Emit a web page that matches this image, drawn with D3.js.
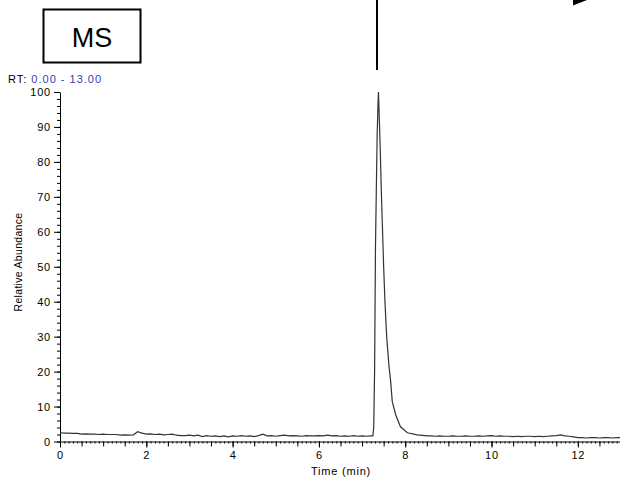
<!DOCTYPE html>
<html>
<head>
<meta charset="utf-8">
<script src="https://cdn.jsdelivr.net/npm/d3@7"></script>
<style>
  body { margin:0; background:#fff; }
  svg { display:block; font-family:"Liberation Sans", Arial, sans-serif; }
  .tk text { font-size:11px; letter-spacing:0.8px; }
</style>
</head>
<body>
<div class="canvas"></div>
<script>
// retention time (min)
var rtTime = [
  0.0,0.1,0.2,0.3,0.4,0.5,0.6,0.7,0.8,0.9,1.0,1.1,1.2,1.3,1.4,1.5,1.6,1.7,1.8,1.9,
  2.0,2.1,2.2,2.3,2.4,2.5,2.6,2.7,2.8,2.9,3.0,3.1,3.2,3.3,3.4,3.5,3.6,3.7,3.8,3.9,
  4.0,4.1,4.2,4.3,4.4,4.5,4.6,4.7,4.8,4.9,5.0,5.1,5.2,5.3,5.4,5.5,5.6,5.7,5.8,5.9,
  6.0,6.1,6.2,6.3,6.4,6.5,6.6,6.7,6.8,6.9,7.0,7.1,7.2,
  7.25,7.27,7.29,7.31,7.33,7.35,7.37,7.38,7.40,7.42,7.45,7.47,7.50,7.53,7.57,7.62,7.66,7.70,7.78,7.89,8.05,8.28,8.51,
  8.6,8.7,8.8,8.9,9.0,9.1,9.2,9.3,9.4,9.5,9.6,9.7,9.8,9.9,
  10.0,10.1,10.2,10.3,10.4,10.5,10.6,10.7,10.8,10.9,11.0,11.1,11.2,11.3,11.4,11.5,11.6,11.7,11.8,11.9,
  12.0,12.1,12.2,12.3,12.4,12.5,12.6,12.7,12.8,12.9,13.0
];
// relative abundance (%)
var abundance = [
  2.5,2.4,2.4,2.3,2.3,2.1,2.2,2.1,2.1,2.0,2.1,2.0,2.0,2.0,1.8,1.9,1.8,1.9,2.8,2.4,
  2.1,2.2,2.0,2.1,1.9,2.0,2.1,1.8,1.7,1.7,1.8,1.6,1.8,1.4,1.7,1.5,1.6,1.4,1.6,1.3,
  1.6,1.5,1.7,1.5,1.6,1.4,1.7,2.1,1.6,1.7,1.5,1.7,1.8,1.6,1.7,1.6,1.5,1.7,1.6,1.6,
  1.7,1.6,1.8,1.6,1.7,1.5,1.6,1.5,1.7,1.5,1.6,1.5,1.6,
  1.6,4,20,55,72,88,97,100,92,84,70,62,50,40,30,22,17.5,11.4,7.6,4.2,2.5,1.9,1.6,
  1.6,1.5,1.6,1.5,1.5,1.6,1.5,1.5,1.6,1.5,1.5,1.6,1.5,1.6,
  1.7,1.5,1.6,1.5,1.5,1.4,1.5,1.4,1.5,1.5,1.4,1.5,1.4,1.5,1.6,1.7,1.9,1.6,1.5,1.3,
  1.1,1.1,1.0,1.1,1.1,1.0,1.1,1.1,1.0,1.1,1.1
];
var xLabels = [0,2,4,6,8,10,12];
var yLabels = [0,10,20,30,40,50,60,70,80,90,100];

var width = 620, height = 478;
var svg = d3.select(".canvas").append("svg")
  .attr("width", width).attr("height", height);

// scales
var x = d3.scaleLinear().domain([0, 13]).range([60, 621]);
var y = d3.scaleLinear().domain([0, 100]).range([441.5, 92]);

// MS box
svg.append("rect")
  .attr("x", 43.5).attr("y", 9.5).attr("width", 97).attr("height", 53)
  .attr("fill", "none").attr("stroke", "#000").attr("stroke-width", 2);
svg.append("text").text("MS")
  .attr("x", 92).attr("y", 47).attr("text-anchor", "middle")
  .attr("style", "font-size:27px");

// vertical line + arrow head on the top
svg.append("line")
  .attr("x1", 377).attr("x2", 377).attr("y1", 0).attr("y2", 70)
  .attr("stroke", "#000").attr("stroke-width", 2);
svg.append("polygon")
  .attr("points", "573,0 573,5.5 587,0")
  .attr("fill", "#000");

// RT range
var rt = svg.append("text").attr("x", 8).attr("y", 83).attr("style", "font-size:11px;letter-spacing:1px");
rt.append("tspan").text("RT: ").attr("fill", "#000");
rt.append("tspan").text("0.00 - 13.00").attr("fill", "#3b3bb8");

// y axis (minor ticks every 2, major every 10)
svg.append("g")
  .attr("transform", "translate(60,0)")
  .call(d3.axisLeft(y).tickValues(d3.range(0, 101, 2)).tickSize(3).tickFormat(""))
  .call(function(g){ g.select(".domain").remove(); });
svg.append("g")
  .attr("class", "tk")
  .attr("transform", "translate(60,0)")
  .call(d3.axisLeft(y).tickValues(yLabels).tickSize(6).tickPadding(3).tickSizeOuter(0))
  .attr("font-size", null).attr("font-family", null);

// x axis: minor 0.1, half-minute 0.5, labels every 2
svg.append("g")
  .attr("transform", "translate(0,441.5)")
  .call(d3.axisBottom(x).tickValues(d3.range(0, 130).map(function(d){ return d / 10; })).tickSize(2).tickFormat(""))
  .call(function(g){ g.select(".domain").remove(); });
svg.append("g")
  .attr("transform", "translate(0,441.5)")
  .call(d3.axisBottom(x).tickValues(d3.range(0, 26).map(function(d){ return d / 2; })).tickSize(5).tickFormat(""))
  .call(function(g){ g.select(".domain").remove(); });
svg.append("g")
  .attr("class", "tk")
  .attr("transform", "translate(0,441.5)")
  .call(d3.axisBottom(x).tickValues(xLabels).tickSize(6).tickPadding(4).tickSizeOuter(0))
  .attr("font-size", null).attr("font-family", null);

// chromatogram trace
var line = d3.line()
  .x(function(d, i){ return x(rtTime[i]); })
  .y(function(d){ return y(d); });
svg.append("path")
  .datum(abundance)
  .attr("d", line)
  .attr("fill", "none")
  .attr("stroke", "#333")
  .attr("stroke-width", 1.2);

// axis labels
svg.append("text").text("Time (min)")
  .attr("x", 341).attr("y", 475).attr("text-anchor", "middle")
  .attr("style", "font-size:11px;letter-spacing:0.8px");
svg.append("text").text("Relative Abundance")
  .attr("transform", "translate(22,262) rotate(-90)")
  .attr("text-anchor", "middle")
  .attr("style", "font-size:10.5px;letter-spacing:0.3px");
</script>
</body>
</html>
